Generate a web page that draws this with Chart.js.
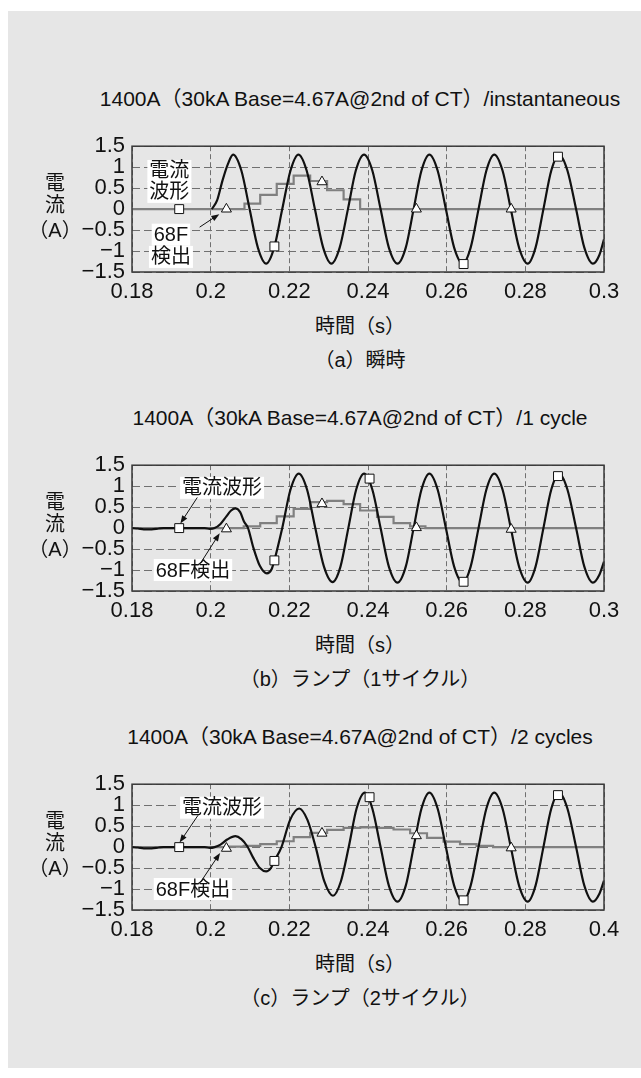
<!DOCTYPE html>
<html lang="ja">
<head>
<meta charset="utf-8">
<script src="https://cdn.jsdelivr.net/npm/chart.js@4.4.1/dist/chart.umd.min.js"></script>
<style>
  html, body { margin: 0; padding: 0; background: #fff; }
  body { width: 641px; height: 1078px; position: relative; overflow: hidden;
         font-family: "Liberation Sans", Arial, "Noto Sans CJK JP", sans-serif; color: #111; }
  #panel { position: absolute; left: 8px; top: 11px; width: 633px; height: 1057px; background: #e6e6e6; }
  canvas { position: absolute; left: 0; }
  .txt { position: absolute; transform: translate(-50%, -50%); white-space: nowrap; font-size: 20px; line-height: 1; }
  .title { font-size: 21px; }
</style>
</head>
<body>
<div id="panel"></div>
<canvas id="chartA" width="641" height="186"></canvas>
<canvas id="chartB" width="641" height="186"></canvas>
<canvas id="chartC" width="641" height="186"></canvas>
<script>
'use strict';
// ---------- data ----------

const xTickValues   = [0.18, 0.2, 0.22, 0.24, 0.26, 0.28, 0.3];
const xTickLabelsAB = ['0.18', '0.2', '0.22', '0.24', '0.26', '0.28', '0.3'];
const xTickLabelsC  = ['0.18', '0.2', '0.22', '0.24', '0.26', '0.28', '0.4'];
const yTickValues   = [-1.5, -1, -0.5, 0, 0.5, 1, 1.5];
const yTickLabels   = ['−1.5', '−1', '−0.5', '0', '0.5', '1', '1.5'];

const titleA   = '1400A（30kA Base=4.67A@2nd of CT）/instantaneous';
const titleB   = '1400A（30kA Base=4.67A@2nd of CT）/1 cycle';
const titleC   = '1400A（30kA Base=4.67A@2nd of CT）/2 cycles';
const captionA = '（a）瞬時';
const captionB = '（b）ランプ（1サイクル）';
const captionC = '（c）ランプ（2サイクル）';
const xTitle   = '時間（s）';
const yTitle   = ['電', '流', '（A）'];

// (a) instantaneous: current waveform (black)
const waveTimeA = [0.2003, 0.2016, 0.2030, 0.2044, 0.2057, 0.2078, 0.2099, 0.2120, 0.2141, 0.2162,
                   0.2182, 0.2203, 0.2223, 0.2244, 0.2265, 0.2286, 0.2307, 0.2328, 0.2349, 0.2369,
                   0.2390, 0.2411, 0.2432, 0.2453, 0.2475, 0.2496, 0.2516, 0.2536, 0.2556, 0.2577,
                   0.2598, 0.2619, 0.2641, 0.2661, 0.2681, 0.2701, 0.2721, 0.2742, 0.2763, 0.2784,
                   0.2806, 0.2826, 0.2846, 0.2866, 0.2886, 0.2907, 0.2929, 0.2950, 0.2972, 0.2988, 0.3];
const waveValA  = [0, 0.2, 0.68, 1.08, 1.3, 0.92, 0, -0.92, -1.3, -0.9,
                   0, 0.92, 1.3, 0.92, 0, -0.92, -1.3, -0.92, 0, 0.92,
                   1.3, 0.92, 0, -0.92, -1.3, -0.92, 0, 0.92, 1.3, 0.92,
                   0, -0.92, -1.3, -0.92, 0, 0.92, 1.3, 0.92, 0, -0.92,
                   -1.3, -0.92, 0, 0.92, 1.3, 0.92, 0, -0.92, -1.3, -1.1, -0.72];
// (a) 68F detection output (grey steps)
const stepTimeA = [0.18, 0.2086, 0.2126, 0.2168, 0.2211, 0.2253, 0.2296, 0.2338, 0.2380, 0.3];
const stepValA  = [0, 0.13, 0.34, 0.60, 0.80, 0.67, 0.45, 0.23, 0, 0];
const squareTimeA = [0.192, 0.2162, 0.2643, 0.2883];
const squareValA  = [0, -0.89, -1.31, 1.25];
const triTimeA    = [0.204, 0.2283, 0.2523, 0.2764];
const triValA     = [0, 0.65, 0, 0];

// (b) ramp, 1 cycle
const waveTimeB = [0.18, 0.1815, 0.1830, 0.1850, 0.1868, 0.1880, 0.1985, 0.1998, 0.2010, 0.2025,
                   0.2040, 0.2052, 0.2063, 0.2075, 0.2085, 0.2095, 0.2108, 0.2125, 0.2143, 0.2155,
                   0.2162, 0.2182, 0.2203, 0.2224, 0.2245, 0.2266, 0.2288, 0.2310, 0.2330, 0.2350,
                   0.2370, 0.2390, 0.2411, 0.2432, 0.2453, 0.2475, 0.2496, 0.2516, 0.2536, 0.2556,
                   0.2577, 0.2598, 0.2619, 0.2641, 0.2661, 0.2681, 0.2701, 0.2721, 0.2742, 0.2763,
                   0.2784, 0.2806, 0.2826, 0.2846, 0.2866, 0.2886, 0.2907, 0.2929, 0.2950, 0.2972,
                   0.2988, 0.3];
const waveValB  = [0, -0.01, -0.03, -0.03, -0.01, 0, 0, -0.02, 0, 0.1,
                   0.28, 0.42, 0.47, 0.38, 0.15, 0, -0.45, -0.9, -1.08, -0.98,
                   -0.77, 0, 0.92, 1.3, 0.92, 0, -0.92, -1.29, -0.92, 0,
                   0.92, 1.3, 0.92, 0, -0.92, -1.3, -0.92, 0, 0.92, 1.3,
                   0.92, 0, -0.92, -1.3, -0.92, 0, 0.92, 1.3, 0.92, 0,
                   -0.92, -1.3, -0.92, 0, 0.92, 1.3, 0.92, 0, -0.92, -1.3,
                   -1.12, -0.8];
const stepTimeB = [0.18, 0.2084, 0.2126, 0.2168, 0.2211, 0.2253, 0.2296, 0.2338, 0.2380, 0.2423,
                   0.2465, 0.2507, 0.2546, 0.3];
const stepValB  = [0, 0.04, 0.12, 0.28, 0.46, 0.62, 0.65, 0.57, 0.42, 0.27, 0.12, 0.04, 0, 0];
const squareTimeB = [0.192, 0.2162, 0.2404, 0.2643, 0.2883];
const squareValB  = [0, -0.77, 1.18, -1.28, 1.24];
const triTimeB    = [0.204, 0.2283, 0.2523, 0.2764];
const triValB     = [-0.02, 0.58, 0.01, -0.03];

// (c) ramp, 2 cycles
const waveTimeC = [0.18, 0.1815, 0.1830, 0.1850, 0.1868, 0.1880, 0.1985, 0.1998, 0.2010, 0.2025,
                   0.2042, 0.2063, 0.2078, 0.2093, 0.2108, 0.2125, 0.2141, 0.2153, 0.2162, 0.2180,
                   0.2202, 0.2225, 0.2246, 0.2267, 0.2289, 0.2311, 0.2331, 0.2351, 0.2371, 0.2392,
                   0.2411, 0.2432, 0.2453, 0.2475, 0.2496, 0.2516, 0.2536, 0.2556, 0.2577, 0.2598,
                   0.2619, 0.2641, 0.2661, 0.2681, 0.2701, 0.2721, 0.2742, 0.2763, 0.2784, 0.2806,
                   0.2826, 0.2846, 0.2866, 0.2886, 0.2907, 0.2929, 0.2950, 0.2972, 0.2988, 0.3];
const waveValC  = [0, -0.01, -0.03, -0.03, -0.01, 0, 0, -0.02, 0, 0.06,
                   0.18, 0.26, 0.19, 0.02, -0.25, -0.5, -0.58, -0.5, -0.33, 0,
                   0.65, 0.92, 0.65, 0, -0.82, -1.16, -0.82, 0, 0.92, 1.3,
                   0.92, 0, -0.92, -1.3, -0.92, 0, 0.92, 1.3, 0.92, 0,
                   -0.92, -1.3, -0.92, 0, 0.92, 1.3, 0.92, 0, -0.92, -1.3,
                   -0.92, 0, 0.92, 1.3, 0.92, 0, -0.92, -1.3, -1.12, -0.8];
const stepTimeC = [0.18, 0.2042, 0.2084, 0.2126, 0.2168, 0.2211, 0.2253, 0.2296, 0.2338, 0.2380,
                   0.2423, 0.2465, 0.2507, 0.2550, 0.2592, 0.2634, 0.2676, 0.2718, 0.3];
const stepValC  = [0, 0.01, 0.03, 0.07, 0.14, 0.24, 0.34, 0.41, 0.46, 0.47,
                   0.46, 0.42, 0.33, 0.22, 0.13, 0.07, 0.03, 0, 0];
const squareTimeC = [0.192, 0.2162, 0.2404, 0.2643, 0.2883];
const squareValC  = [0, -0.33, 1.19, -1.27, 1.24];
const triTimeC    = [0.204, 0.2283, 0.2523, 0.2764];
const triValC     = [-0.03, 0.33, 0.27, -0.02];

// labels inside the plot, in data units (time, value)
const notesA  = [{ text: '電流', x: 0.1895, y: 0.91 }, { text: '波形', x: 0.1895, y: 0.41 },
                 { text: '68F', x: 0.1899, y: -0.61 }, { text: '検出', x: 0.1899, y: -1.14 }];
const arrowsA = [{ from: [0.1972, -0.43], to: [0.2022, -0.12] }];
const notesB  = [{ text: '電流波形', x: 0.2029, y: 0.96 }, { text: '68F検出', x: 0.1955, y: -1.0 }];
const arrowsB = [{ from: [0.1966, 0.73], to: [0.1923, 0.11] }, { from: [0.1974, -0.84], to: [0.2023, -0.12] }];
const notesC  = [{ text: '電流波形', x: 0.2029, y: 0.94 }, { text: '68F検出', x: 0.1955, y: -1.0 }];
const arrowsC = [{ from: [0.1968, 0.76], to: [0.1921, 0.11] }, { from: [0.1974, -0.84], to: [0.2024, -0.14] }];

// ---------- layout ----------
const PLOT_H = 132;
const TEXT_X = 360;
const FONT = '"Liberation Sans", Arial, "Noto Sans CJK JP", sans-serif';

const panels = [
    { canvas: 'chartA', top: 140, title: titleA, caption: captionA, xLabels: xTickLabelsAB,
      wave: [waveTimeA, waveValA], step: [stepTimeA, stepValA],
      squares: [squareTimeA, squareValA], tris: [triTimeA, triValA], notes: notesA, arrows: arrowsA },
    { canvas: 'chartB', top: 459, title: titleB, caption: captionB, xLabels: xTickLabelsAB,
      wave: [waveTimeB, waveValB], step: [stepTimeB, stepValB],
      squares: [squareTimeB, squareValB], tris: [triTimeB, triValB], notes: notesB, arrows: arrowsB },
    { canvas: 'chartC', top: 778, title: titleC, caption: captionC, xLabels: xTickLabelsC,
      wave: [waveTimeC, waveValC], step: [stepTimeC, stepValC],
      squares: [squareTimeC, squareValC], tris: [triTimeC, triValC], notes: notesC, arrows: arrowsC },
];

const zip = (xs, ys) => xs.map((x, i) => ({ x, y: ys[i] }));

function addText(text, cx, cy, cls) {
    const el = document.createElement('div');
    el.className = 'txt' + (cls ? ' ' + cls : '');
    el.textContent = text;
    el.style.left = cx + 'px';
    el.style.top  = cy + 'px';
    document.body.appendChild(el);
}

// frame around the plot, plus the in-plot labels and arrows
const framePlugin = {
    id: 'frame',
    afterDatasetsDraw(chart, args, opts) {
        const { ctx, chartArea: a } = chart;
        const sx = chart.scales.x, sy = chart.scales.y;
        ctx.save();
        ctx.strokeStyle = '#3a3a3a';
        ctx.lineWidth = 1.5;
        ctx.strokeRect(a.left, a.top, a.right - a.left, a.bottom - a.top);

        ctx.font = '20px ' + FONT;
        ctx.textAlign = 'center';
        ctx.textBaseline = 'middle';
        (opts.notes || []).forEach(n => {
            const px = sx.getPixelForValue(n.x), py = sy.getPixelForValue(n.y);
            const w = ctx.measureText(n.text).width;
            ctx.fillStyle = '#fff';
            ctx.fillRect(px - w / 2 - 2, py - 11, w + 4, 22);
            ctx.fillStyle = '#111';
            ctx.fillText(n.text, px, py + 1);
        });

        ctx.strokeStyle = '#111';
        ctx.fillStyle = '#111';
        ctx.lineWidth = 1;
        (opts.arrows || []).forEach(ar => {
            const x0 = sx.getPixelForValue(ar.from[0]), y0 = sy.getPixelForValue(ar.from[1]);
            const x1 = sx.getPixelForValue(ar.to[0]),   y1 = sy.getPixelForValue(ar.to[1]);
            const ang = Math.atan2(y1 - y0, x1 - x0);
            ctx.beginPath();
            ctx.moveTo(x0, y0);
            ctx.lineTo(x1 - 5 * Math.cos(ang), y1 - 5 * Math.sin(ang));
            ctx.stroke();
            ctx.beginPath();
            ctx.moveTo(x1, y1);
            ctx.lineTo(x1 - 8 * Math.cos(ang) + 3 * Math.sin(ang), y1 - 8 * Math.sin(ang) - 3 * Math.cos(ang));
            ctx.lineTo(x1 - 8 * Math.cos(ang) - 3 * Math.sin(ang), y1 - 8 * Math.sin(ang) + 3 * Math.cos(ang));
            ctx.closePath();
            ctx.fill();
        });
        ctx.restore();
    },
};

Chart.defaults.font.family = FONT;
Chart.defaults.font.size = 22;
Chart.defaults.color = '#111';

function makeChart(p) {
    const canvas = document.getElementById(p.canvas);
    canvas.style.top = (p.top - 14) + 'px';

    return new Chart(canvas, {
        type: 'line',
        data: {
            datasets: [
                {
                    data: zip(p.squares[0], p.squares[1]),
                    showLine: false,
                    pointStyle: 'rect',
                    pointRadius: 6.3,
                    pointBorderWidth: 1,
                    pointBorderColor: '#111',
                    pointBackgroundColor: '#fff',
                },
                {
                    data: zip(p.tris[0], p.tris[1]),
                    showLine: false,
                    pointStyle: 'triangle',
                    pointRadius: 5.8,
                    pointBorderWidth: 1,
                    pointBorderColor: '#111',
                    pointBackgroundColor: '#fff',
                },
                {
                    data: zip(p.wave[0], p.wave[1]),
                    borderColor: '#111',
                    borderWidth: 2.2,
                    pointRadius: 0,
                    cubicInterpolationMode: 'monotone',
                },
                {
                    data: zip(p.step[0], p.step[1]),
                    borderColor: '#808080',
                    borderWidth: 2.2,
                    pointRadius: 0,
                    stepped: true,
                },
            ],
        },
        options: {
            responsive: false,
            animation: false,
            devicePixelRatio: 1,
            layout: { padding: { left: 0, right: 37, top: 14, bottom: 0 } },
            plugins: {
                legend: { display: false },
                tooltip: { enabled: false },
                frame: { notes: p.notes, arrows: p.arrows },
            },
            scales: {
                x: {
                    type: 'linear',
                    min: 0.18,
                    max: 0.3,
                    afterBuildTicks: s => { s.ticks = xTickValues.map(v => ({ value: v })); },
                    afterFit: s => { s.height = 40; },
                    ticks: {
                        padding: 7,
                        maxRotation: 0,
                        autoSkip: false,
                        callback: (v, i) => p.xLabels[i],
                    },
                    grid: { color: '#707070', lineWidth: 1, drawTicks: false },
                    border: { display: false, dash: [5, 3] },
                },
                y: {
                    min: -1.5,
                    max: 1.5,
                    afterBuildTicks: s => { s.ticks = yTickValues.map(v => ({ value: v })); },
                    afterFit: s => { s.width = 132; },
                    ticks: {
                        padding: 7,
                        autoSkip: false,
                        callback: (v, i) => yTickLabels[i],
                    },
                    grid: { color: '#707070', lineWidth: 1, drawTicks: false },
                    border: { display: false, dash: [8, 4] },
                },
            },
        },
        plugins: [framePlugin],
    });
}

panels.forEach(p => {
    makeChart(p);
    const bottom = p.top + PLOT_H;
    addText(p.title, TEXT_X, p.top - 42, 'title');
    addText(yTitle[0], 55, p.top + 43);
    addText(yTitle[1], 55, p.top + 65);
    addText(yTitle[2], 55, p.top + 90);
    addText(xTitle, TEXT_X, bottom + 54);
    addText(p.caption, TEXT_X, bottom + 88);
});
</script>
</body>
</html>
